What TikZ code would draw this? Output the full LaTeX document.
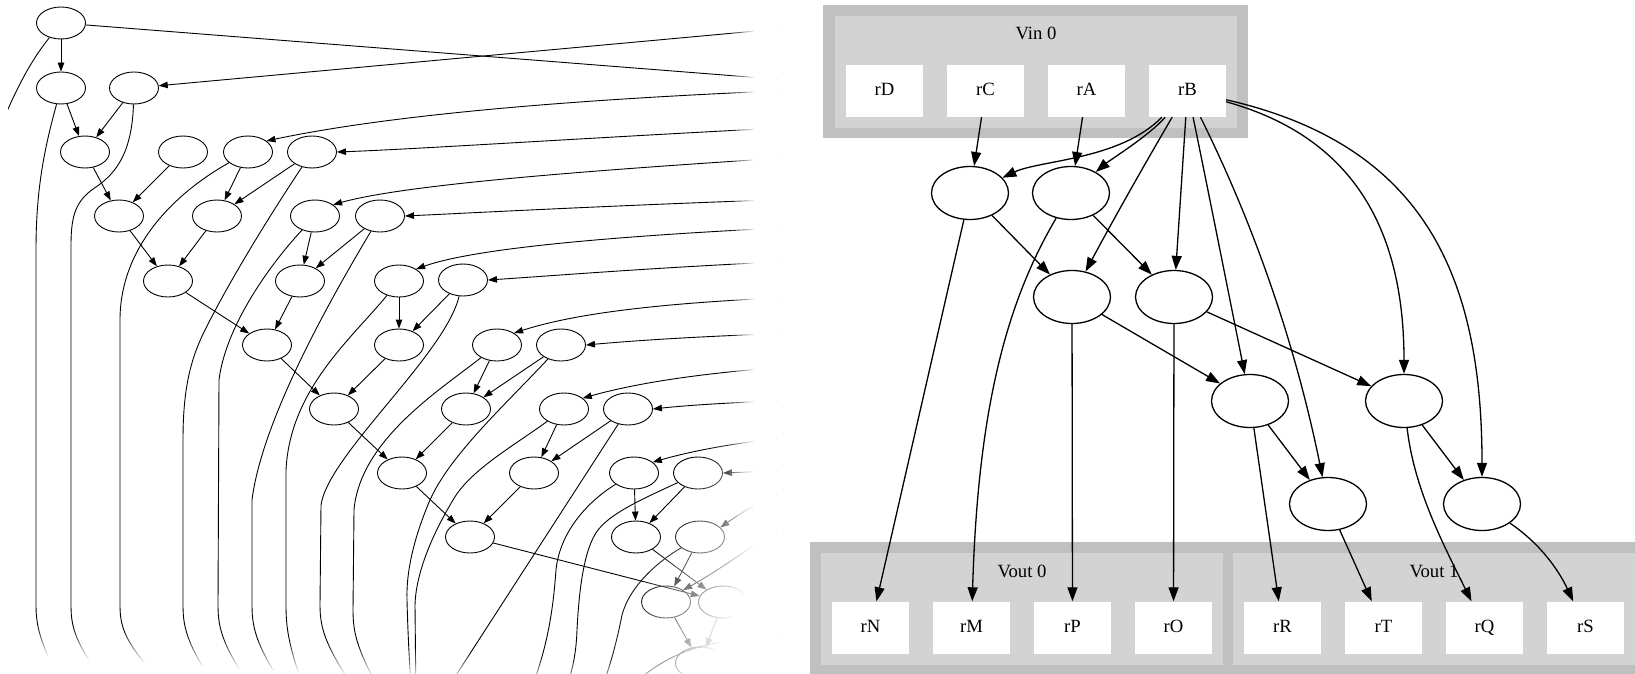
\documentclass[tikz,border=0pt]{standalone}
\usepackage{fontspec}
\setmainfont{Liberation Serif}
\usetikzlibrary{shapes.geometric,arrows.meta}
\definecolor{clusterrim}{HTML}{C0C0C0}
\definecolor{clusterbg}{HTML}{D3D3D3}
\begin{document}
\begin{tikzpicture}[x=1pt,y=-1pt,
  small/.style={ellipse,draw,line width=0.9pt,minimum width=49pt,minimum height=32pt,inner sep=0pt},
  ledge/.style={line width=0.9pt},
  larrow/.style={ledge,-{Triangle[length=9pt,width=6.5pt]}},
  big/.style={ellipse,draw,line width=1.3pt,minimum width=77pt,minimum height=53pt,inner sep=0pt},
  redge/.style={line width=1.3pt,-{Triangle[length=14pt,width=10pt]}},
  reg/.style={rectangle,fill=white,minimum width=77pt,minimum height=52pt,inner sep=0pt,
    text height=9.6pt,text depth=0pt,font=\fontsize{18.7}{22}\selectfont},
  ctitle/.style={anchor=base,inner sep=0pt,font=\fontsize{18.7}{22}\selectfont},
  haze/.style={fill=white,draw=none}
]
\useasboundingbox (0,0) rectangle (1635,674);

% ---------------- left: reduction tree with soft edges ----------------
\begin{scope}
\clip (8,-20) rectangle (776,720);

\node[small] (a0)  at (61,23) {};
\node[small] (a1)  at (61,88) {};
\node[small] (a2)  at (134,88) {};
\node[small] (a3)  at (85,152) {};
\node[small] (a4)  at (183,152) {};
\node[small] (a5)  at (248,152) {};
\node[small] (a6)  at (312,152) {};
\node[small] (a7)  at (119,216) {};
\node[small] (a8)  at (217,216) {};
\node[small] (a9)  at (315,216) {};
\node[small] (a10) at (380,216) {};
\node[small] (a11) at (168,281) {};
\node[small] (a12) at (300,281) {};
\node[small] (a13) at (399,281) {};
\node[small] (a14) at (463,280) {};
\node[small] (a15) at (267,345) {};
\node[small] (a16) at (399,345) {};
\node[small] (a17) at (497,345) {};
\node[small] (a18) at (561,345) {};
\node[small] (a19) at (334,409) {};
\node[small] (a20) at (466,409) {};
\node[small] (a21) at (564,409) {};
\node[small] (a22) at (628,409) {};
\node[small] (a23) at (402,473) {};
\node[small] (a24) at (534,473) {};
\node[small] (a25) at (634,473) {};
\node[small] (a26) at (698,473) {};
\node[small] (a27) at (470,537) {};
\node[small] (a28) at (636,537) {};
\node[small] (a29) at (700,537) {};
\node[small] (a30) at (666,602) {};
\node[small] (a31) at (723,602) {};
\node[small] (a32) at (700,663) {};

% far ends of edges that leave the frame
\coordinate (x0)  at (800,81);
\coordinate (xl0) at (-5,140);
\coordinate (i2)  at (800,27);
\coordinate (i5)  at (800,90);
\coordinate (i6)  at (800,127);
\coordinate (i9)  at (800,157);
\coordinate (i10) at (800,199);
\coordinate (i13) at (800,227);
\coordinate (i14) at (800,261);
\coordinate (i17) at (800,297);
\coordinate (i18) at (800,333);
\coordinate (i21) at (800,366);
\coordinate (i22) at (800,400);
\coordinate (i25) at (800,437);
\coordinate (i26) at (800,470);
\coordinate (i29) at (800,488);
\coordinate (i30) at (800,515);
\coordinate (i33) at (800,636);
\coordinate (b1)  at (70,700);
\coordinate (b2)  at (120,700);
\coordinate (b5)  at (180,700);
\coordinate (b6)  at (225,700);
\coordinate (b9)  at (260,700);
\coordinate (b10) at (292,700);
\coordinate (b13) at (308,700);
\coordinate (b14) at (362,700);
\coordinate (b17) at (385,700);
\coordinate (b18) at (412,705);
\coordinate (b21) at (416,705);
\coordinate (b22) at (440,700);
\coordinate (b25) at (525,705);
\coordinate (b26) at (560,705);
\coordinate (b29) at (595,705);
\coordinate (b33) at (605,710);

% tree edges
\draw[larrow] (a0) -- (a1);
\draw[larrow] (a1) -- (a3);
\draw[larrow] (a2) -- (a3);
\draw[larrow] (a3) -- (a7);
\draw[larrow] (a4) -- (a7);
\draw[larrow] (a5) -- (a8);
\draw[larrow] (a6) -- (a8);
\draw[larrow] (a7) -- (a11);
\draw[larrow] (a8) -- (a11);
\draw[larrow] (a9) -- (a12);
\draw[larrow] (a10) -- (a12);
\draw[larrow] (a11) -- (a15);
\draw[larrow] (a12) -- (a15);
\draw[larrow] (a13) -- (a16);
\draw[larrow] (a14) -- (a16);
\draw[larrow] (a15) -- (a19);
\draw[larrow] (a16) -- (a19);
\draw[larrow] (a17) -- (a20);
\draw[larrow] (a18) -- (a20);
\draw[larrow] (a19) -- (a23);
\draw[larrow] (a20) -- (a23);
\draw[larrow] (a21) -- (a24);
\draw[larrow] (a22) -- (a24);
\draw[larrow] (a23) -- (a27);
\draw[larrow] (a24) -- (a27);
\draw[larrow] (a25) -- (a28);
\draw[larrow] (a26) -- (a28);
\draw[larrow] (a27) -- (a31);
\draw[larrow] (a28) -- (a31);
\draw[larrow] (a29) -- (a30);
\draw[larrow] (a30) -- (a32);
\draw[larrow] (a31) -- (a32);

% edges arriving from the right
\draw[larrow] (i2) -- (a2);
\draw[larrow] (i5) .. controls (550,100) and (380,117) .. (a5.31);
\draw[larrow] (i6) .. controls (600,137) and (420,149) .. (a6.east);
\draw[larrow] (i9) .. controls (560,172) and (400,186) .. (a9.32);
\draw[larrow] (i10) .. controls (620,205) and (470,213) .. (a10.east);
\draw[larrow] (i13) .. controls (590,237) and (470,250) .. (a13.35);
\draw[larrow] (i14) .. controls (660,267) and (550,276) .. (a14.east);
\draw[larrow] (i17) .. controls (650,303) and (570,315) .. (a17.35);
\draw[larrow] (i18) .. controls (700,336) and (630,341) .. (a18.east);
\draw[larrow] (i21) .. controls (710,372) and (640,382) .. (a21.30);
\draw[larrow] (i22) .. controls (740,402) and (690,405) .. (a22.east);
\draw[larrow] (i25) .. controls (750,440) and (695,450) .. (a25.30);
\draw[larrow] (i26) -- (a26.east);
\draw[larrow] (i29) .. controls (770,495) and (745,510) .. (a29.25);
\draw[larrow] (i30) .. controls (760,540) and (720,570) .. (a30.35);

% edges leaving the frame
\draw[ledge] (a0) -- (x0);
\draw[ledge] (a0) .. controls (30,62) and (15,90) .. (xl0);
\draw[ledge] (a1) .. controls (44,150) and (36,190) .. (36,250) -- (36,605)
  .. controls (36,630) and (42,648) .. (b1);
\draw[ledge] (a2) .. controls (132,150) and (118,172) .. (96,187)
  .. controls (76,200) and (71,215) .. (71,245) -- (71,605)
  .. controls (71,630) and (76,648) .. (b2);
\draw[ledge] (a5) .. controls (170,196) and (120,250) .. (120,320) -- (120,605)
  .. controls (120,630) and (126,648) .. (b5);
\draw[ledge] (a6) .. controls (260,230) and (225,290) .. (205,330)
  .. controls (190,360) and (183,390) .. (183,440) -- (183,605)
  .. controls (183,630) and (188,648) .. (b6);
\draw[ledge] (a9) .. controls (265,270) and (225,330) .. (219,380) -- (218,605)
  .. controls (218,630) and (223,648) .. (b9);
\draw[ledge] (a10) .. controls (330,300) and (262,420) .. (252,500) -- (252,605)
  .. controls (252,630) and (257,648) .. (b10);
\draw[ledge] (a13) .. controls (350,340) and (290,390) .. (286,470) -- (286,605)
  .. controls (286,630) and (289,648) .. (b13);
\draw[ledge] (a14) .. controls (445,355) and (328,455) .. (321,505) -- (320,605)
  .. controls (320,630) and (326,648) .. (b14);
\draw[ledge] (a17) .. controls (440,390) and (360,440) .. (354,510) -- (353,610)
  .. controls (353,635) and (358,652) .. (b17);
\draw[ledge] (a18) .. controls (505,405) and (450,455) .. (430,500)
  .. controls (415,535) and (406,570) .. (407,600)
  .. controls (408,640) and (410,670) .. (b18);
\draw[ledge] (a21) .. controls (515,445) and (470,470) .. (453,500)
  .. controls (435,530) and (416,570) .. (415,605) -- (b21);
\draw[ledge] (a22) -- (b22);
\draw[ledge] (a25) .. controls (590,500) and (560,530) .. (556,570)
  .. controls (553,610) and (548,650) .. (b25);
\draw[ledge] (a26) .. controls (645,498) and (612,512) .. (598,530)
  .. controls (584,548) and (579,590) .. (577,630)
  .. controls (576,660) and (570,680) .. (b26);
\draw[ledge] (a29) .. controls (660,560) and (630,585) .. (622,615)
  .. controls (617,640) and (610,670) .. (b29);
\draw[ledge] (i33) .. controls (700,640) and (670,645) .. (b33);

% soft right edge
\foreach \k in {1,...,13}{
  \pgfmathsetmacro\fadeop{1/\k}
  \fill[haze,fill opacity=\fadeop] (756-2*\k,-20) rectangle (790,720);
}
% soft lower edge, slightly tilted
\foreach \k in {1,...,16}{
  \pgfmathsetmacro\fadeop{1/\k}
  \fill[haze,fill opacity=\fadeop] (-20,{654.8-2*\k}) -- (790,{703.4-2*\k})
    -- (790,720) -- (-20,720) -- cycle;
}
% soft lower right corner
\foreach \k in {1,...,16}{
  \pgfmathsetmacro\fadeop{1/\k}
  \pgfmathsetmacro\fadeD{2095-15*\k}
  \fill[haze,fill opacity=\fadeop] ({(\fadeD-720)/2},720) -- (790,720)
    -- (790,{\fadeD-1580}) -- cycle;
}
\end{scope}

% ---------------- right: register clusters and operations ----------------
\fill[clusterrim] (823,5) rectangle (1248,138);
\fill[clusterbg] (835,16) rectangle (1237,128);
\node[ctitle] (vin) at (1036,40) {Vin 0};
\node[reg] (rD) at (884.5,91) {rD};
\node[reg] (rC) at (985.5,91) {rC};
\node[reg] (rA) at (1086.5,91) {rA};
\node[reg] (rB) at (1187.5,91) {rB};

\fill[clusterrim] (810,542) rectangle (1645,690);
\fill[clusterbg] (821,553) rectangle (1223,665);
\fill[clusterbg] (1233,553) rectangle (1645,665);
\node[ctitle] (vout0) at (1022,577) {Vout 0};
\node[ctitle] (vout1) at (1434,577) {Vout 1};
\node[reg] (rN) at (870.5,627.5) {rN};
\node[reg] (rM) at (971.5,627.5) {rM};
\node[reg] (rP) at (1072.5,627.5) {rP};
\node[reg] (rO) at (1173.5,627.5) {rO};
\node[reg] (rR) at (1282.5,627.5) {rR};
\node[reg] (rT) at (1383.5,627.5) {rT};
\node[reg] (rQ) at (1484.5,627.5) {rQ};
\node[reg] (rS) at (1585.5,627.5) {rS};

\node[big] (e1) at (970,193) {};
\node[big] (e2) at (1071,193) {};
\node[big] (e3) at (1072,297) {};
\node[big] (e4) at (1174,297) {};
\node[big] (e5) at (1250,401) {};
\node[big] (e6) at (1404,401) {};
\node[big] (e7) at (1328,504) {};
\node[big] (e8) at (1482,504) {};

\draw[redge] (rC) -- (e1);
\draw[redge] (rA) -- (e2);
\draw[redge] (rB) .. controls (1120,160) and (1040,160) .. (e1);
\draw[redge] (rB) .. controls (1150,135) and (1110,160) .. (e2);
\draw[redge] (rB) .. controls (1143,167) and (1112,222) .. (e3);
\draw[redge] (rB) -- (e4);
\draw[redge] (rB) .. controls (1200,150) and (1238,340) .. (e5);
\draw[redge] (rB) .. controls (1260,237) and (1298,357) .. (e7);
\draw[redge] (rB) .. controls (1349,136) and (1404,224) .. (e6);
\draw[redge] (rB) .. controls (1425,145) and (1482,277) .. (e8);
\draw[redge] (e1) -- (e3);
\draw[redge] (e1) -- (rN);
\draw[redge] (e2) -- (e4);
\draw[redge] (e2) .. controls (1009,298) and (978,402) .. (rM);
\draw[redge] (e3) -- (e5);
\draw[redge] (e3) -- (rP);
\draw[redge] (e4) -- (e6);
\draw[redge] (e4) -- (rO);
\draw[redge] (e5) -- (e7);
\draw[redge] (e5) -- (rR);
\draw[redge] (e6) -- (e8);
\draw[redge] (e6) .. controls (1414,488) and (1442,542) .. (rQ);
\draw[redge] (e7) -- (rT);
\draw[redge] (e8) .. controls (1542,545) and (1559.5,572) .. (rS);
\end{tikzpicture}
\end{document}
